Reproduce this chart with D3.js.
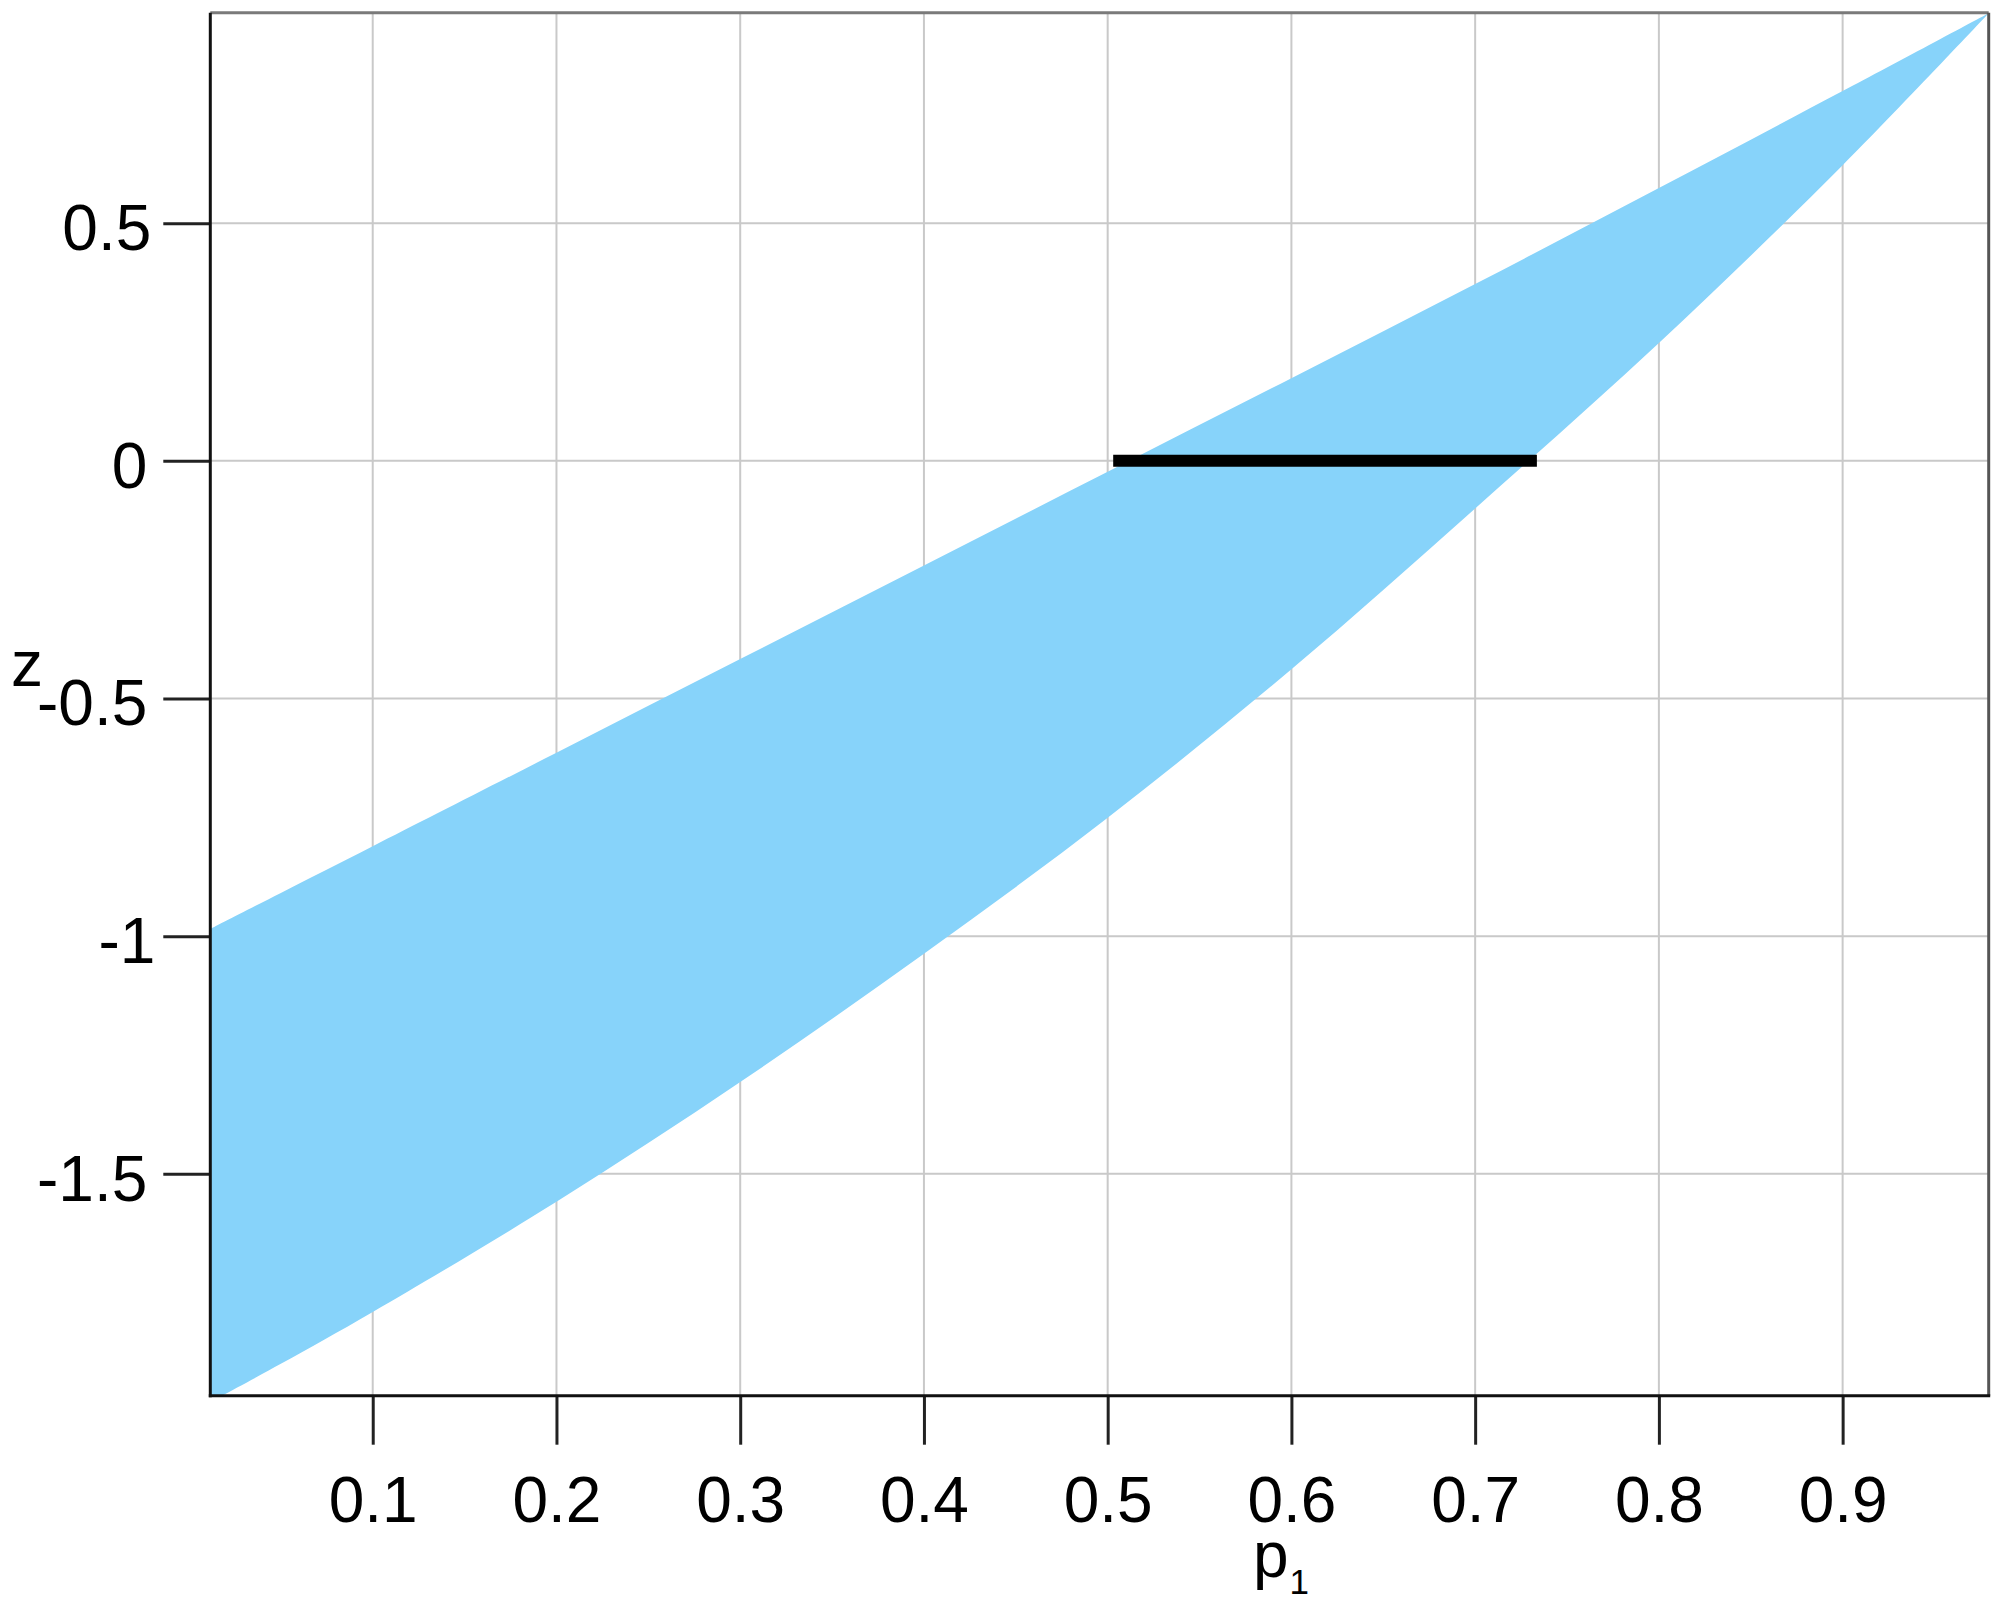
<!DOCTYPE html>
<html>
<head>
<meta charset="utf-8">
<script src="https://cdn.jsdelivr.net/npm/d3@7"></script>
<style>
  html, body { margin: 0; padding: 0; background: #ffffff; }
  svg { display: block; }
  text { font-family: "Liberation Sans", Arial, sans-serif; fill: #000; }
</style>
</head>
<body>
<svg id="chart" width="2000" height="1603"></svg>
<script>
// ---- data ----
const pValues = [0.0116, 0.05, 0.1, 0.2, 0.3, 0.4, 0.5, 0.6, 0.7, 0.8, 0.9, 0.9795];
const upperZ  = [-0.985, -0.909, -0.811, -0.614, -0.417, -0.220, -0.023, 0.174, 0.372, 0.574, 0.778, 0.942];
const lowerZ  = [-1.98, -1.90, -1.791, -1.559, -1.307, -1.037, -0.751, -0.4385, -0.100, 0.248, 0.622, 0.942];
const segmentP = [0.503, 0.7336];
const segmentZ = 0;
const xTicks = [0.1, 0.2, 0.3, 0.4, 0.5, 0.6, 0.7, 0.8, 0.9];
const yTicks = [0.5, 0, -0.5, -1, -1.5];
const xDomain = [0.0116, 0.9795];
const yDomain = [-1.967, 0.943];

(function () {
// ---- layout ----
const mLeft = 210.3, mRight = 1988.7, mTop = 12.7, mBottom = 1395.7;
const svg = d3.select("#chart");
const x = d3.scaleLinear().domain(xDomain).range([mLeft, mRight]);
const y = d3.scaleLinear().domain(yDomain).range([mBottom, mTop]);

svg.append("defs").append("clipPath").attr("id", "plotclip")
  .append("rect").attr("x", mLeft).attr("y", mTop)
  .attr("width", mRight - mLeft).attr("height", mBottom - mTop);

// gridlines
const grid = svg.append("g").attr("stroke", "#c9c9c9").attr("stroke-width", 2);
grid.selectAll("line.v").data(xTicks).join("line").attr("class", "v")
  .attr("x1", d => x(d)).attr("x2", d => x(d)).attr("y1", mTop).attr("y2", mBottom);
grid.selectAll("line.h").data(yTicks).join("line").attr("class", "h")
  .attr("x1", mLeft).attr("x2", mRight).attr("y1", d => y(d)).attr("y2", d => y(d));

// band
const bandData = pValues.map((p, i) => ({p, lo: lowerZ[i], hi: upperZ[i]}));
const area = d3.area()
  .x(d => x(d.p)).y0(d => y(d.lo)).y1(d => y(d.hi))
  .curve(d3.curveCatmullRom.alpha(0.5));
svg.append("path").datum(bandData).attr("d", area).attr("fill", "#87d3fa")
  .attr("clip-path", "url(#plotclip)");

// black segment
svg.append("line")
  .attr("x1", x(segmentP[0])).attr("x2", x(segmentP[1]))
  .attr("y1", y(segmentZ)).attr("y2", y(segmentZ))
  .attr("stroke", "#000").attr("stroke-width", 12).attr("stroke-linecap", "butt");

// frame: top/right grey
svg.append("line").attr("x1", mLeft).attr("x2", mRight).attr("y1", mTop).attr("y2", mTop)
  .attr("stroke", "#7a7a7a").attr("stroke-width", 3);
svg.append("line").attr("x1", mRight).attr("x2", mRight).attr("y1", mTop).attr("y2", mBottom)
  .attr("stroke", "#555").attr("stroke-width", 3);

// axes
const fmt = d => String(d);
const xAxis = d3.axisBottom(x).tickValues(xTicks).tickFormat(fmt).tickSize(49).tickPadding(32);
const gx = svg.append("g").attr("transform", `translate(0,${mBottom})`).call(xAxis);
gx.select(".domain").remove();
gx.selectAll(".tick line").attr("stroke", "#222").attr("stroke-width", 3);
gx.selectAll(".tick text").attr("font-size", 64).attr("font-family", "Liberation Sans, Arial, sans-serif").attr("fill", "#000");

const yAxis = d3.axisLeft(y).tickValues(yTicks).tickFormat(fmt).tickSize(47).tickPadding(16);
const gy = svg.append("g").attr("transform", `translate(${mLeft},0)`).call(yAxis);
gy.select(".domain").remove();
gy.selectAll(".tick line").attr("stroke", "#222").attr("stroke-width", 3);
const labelNudge = {"0.5": 4, "-1": 8};
gy.selectAll(".tick text").attr("font-size", 64).attr("dy", "0.41em")
  .attr("dx", d => labelNudge[String(d)] || 0)
  .attr("font-family", "Liberation Sans, Arial, sans-serif").attr("fill", "#000");

svg.append("line").attr("x1", mLeft).attr("x2", mLeft).attr("y1", mTop).attr("y2", mBottom + 1.5)
  .attr("stroke", "#111").attr("stroke-width", 3);
svg.append("line").attr("x1", mLeft - 1.5).attr("x2", mRight + 1.5).attr("y1", mBottom).attr("y2", mBottom)
  .attr("stroke", "#111").attr("stroke-width", 3);

// axis titles
svg.append("text").attr("x", 11).attr("y", 686).attr("font-size", 64).text("z");
const xt = svg.append("text").attr("x", 1253).attr("y", 1577).attr("font-size", 64);
xt.append("tspan").text("p");
xt.append("tspan").attr("font-size", 35).attr("dx", 1).attr("dy", 17).text("1");
})();
</script>
</body>
</html>
